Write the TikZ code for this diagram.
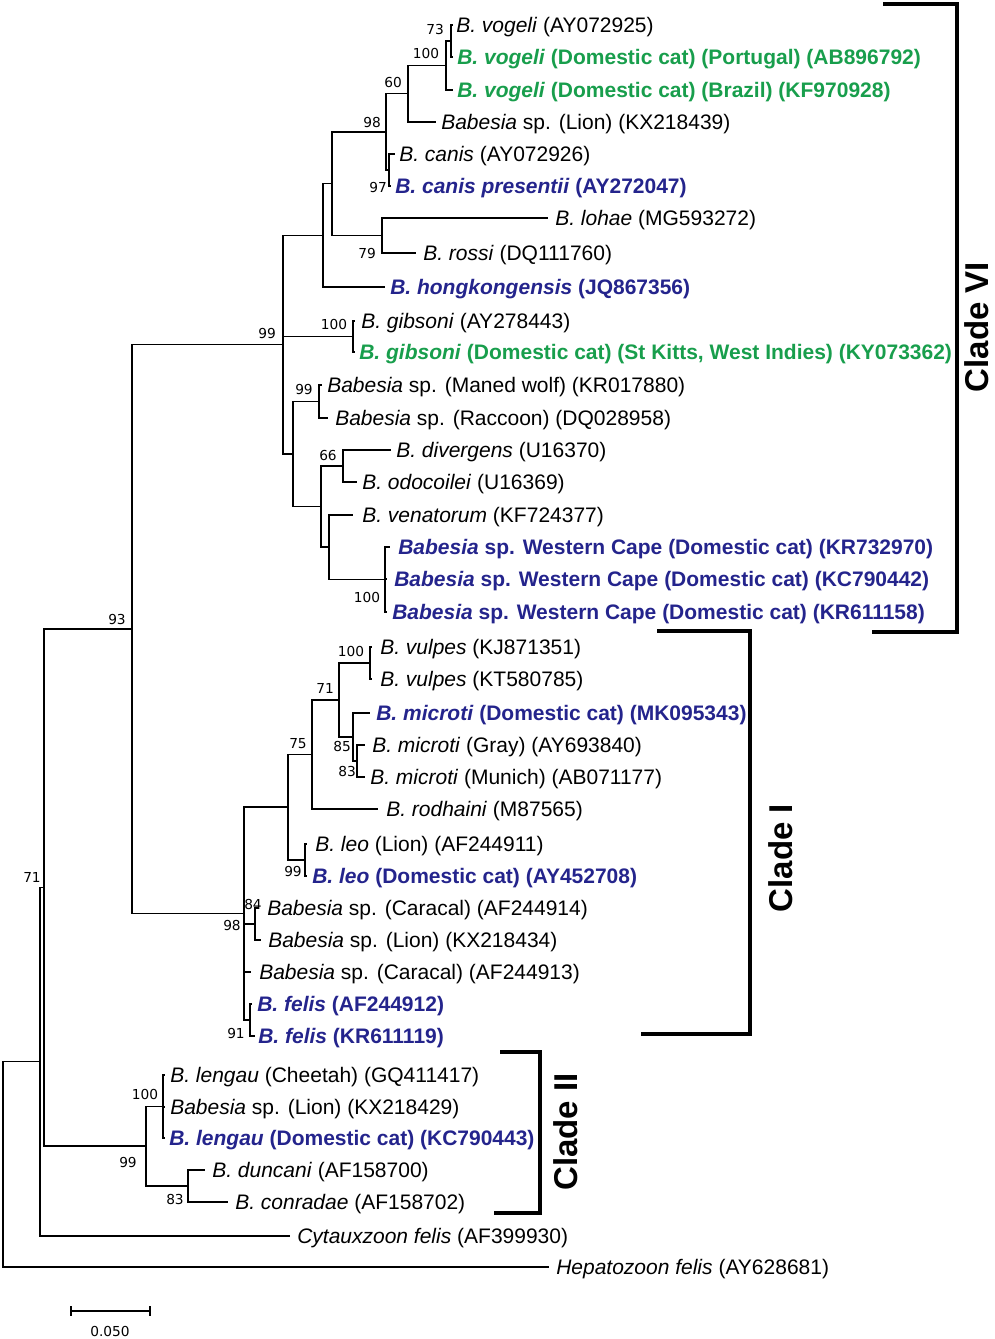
\documentclass[tikz,border=0pt]{standalone}
\usepackage{fontspec}
\setmainfont{Liberation Sans}
\newfontfamily\bsfont{DejaVu Sans}
\definecolor{cgreen}{RGB}{24,158,76}
\definecolor{cblue}{RGB}{36,36,140}
\begin{document}
\begin{tikzpicture}[x=0.75pt,y=-0.75pt,
  br/.style={line width=0.85pt},
  bracket/.style={line width=2.6pt},
  tip/.style={anchor=west,inner sep=0pt,yshift=-1.5pt,font=\fontsize{15.75}{18}\selectfont},
  grn/.style={tip,text=cgreen,font=\fontsize{15.75}{18}\selectfont\bfseries},
  blu/.style={tip,text=cblue,font=\fontsize{15.75}{18}\selectfont\bfseries},
  bs/.style={inner sep=0pt,font=\bsfont\fontsize{10.3}{12}\selectfont},
  clade/.style={inner sep=0pt,rotate=90,font=\fontsize{24.75}{28}\selectfont\bfseries}]
\useasboundingbox (0,0) rectangle (995,1339);
% ---------- tip labels ----------
\node[tip] (t1) at (456,25) {\textit{B. vogeli} (AY072925)};
\node[grn] (t2) at (457,57) {\textit{B. vogeli} (Domestic cat) (Portugal) (AB896792)};
\node[grn] (t3) at (457,90) {\textit{B. vogeli} (Domestic cat) (Brazil) (KF970928)};
\node[tip] (t4) at (441,122) {\textit{Babesia} sp. (Lion) (KX218439)};
\node[tip] (t5) at (399,154) {\textit{B. canis} (AY072926)};
\node[blu] (t6) at (395,186) {\textit{B. canis presentii} (AY272047)};
\node[tip] (t7) at (555,218) {\textit{B. lohae} (MG593272)};
\node[tip] (t8) at (423,253) {\textit{B. rossi} (DQ111760)};
\node[blu] (t9) at (390,287) {\textit{B. hongkongensis} (JQ867356)};
\node[tip] (t10) at (361,321) {\textit{B. gibsoni} (AY278443)};
\node[grn] (t11) at (359,352) {\textit{B. gibsoni} (Domestic cat) (St Kitts, West Indies) (KY073362)};
\node[tip] (t12) at (327,385) {\textit{Babesia} sp. (Maned wolf) (KR017880)};
\node[tip] (t13) at (335,418) {\textit{Babesia} sp. (Raccoon) (DQ028958)};
\node[tip] (t14) at (396,450) {\textit{B. divergens} (U16370)};
\node[tip] (t15) at (362,482) {\textit{B. odocoilei} (U16369)};
\node[tip] (t16) at (362,515) {\textit{B. venatorum} (KF724377)};
\node[blu] (t17) at (398,547) {\textit{Babesia} sp. Western Cape (Domestic cat) (KR732970)};
\node[blu] (t18) at (394,579) {\textit{Babesia} sp. Western Cape (Domestic cat) (KC790442)};
\node[blu] (t19) at (392,612) {\textit{Babesia} sp. Western Cape (Domestic cat) (KR611158)};
\node[tip] (t20) at (380,647) {\textit{B. vulpes} (KJ871351)};
\node[tip] (t21) at (380,679) {\textit{B. vulpes} (KT580785)};
\node[blu] (t22) at (376,713) {\textit{B. microti} (Domestic cat) (MK095343)};
\node[tip] (t23) at (372,745) {\textit{B. microti} (Gray) (AY693840)};
\node[tip] (t24) at (370,777) {\textit{B. microti} (Munich) (AB071177)};
\node[tip] (t25) at (386,809) {\textit{B. rodhaini} (M87565)};
\node[tip] (t26) at (315,844) {\textit{B. leo} (Lion) (AF244911)};
\node[blu] (t27) at (312,876) {\textit{B. leo} (Domestic cat) (AY452708)};
\node[tip] (t28) at (267,908) {\textit{Babesia} sp. (Caracal) (AF244914)};
\node[tip] (t29) at (268,940) {\textit{Babesia} sp. (Lion) (KX218434)};
\node[tip] (t30) at (259,972) {\textit{Babesia} sp. (Caracal) (AF244913)};
\node[blu] (t31) at (257,1004) {\textit{B. felis} (AF244912)};
\node[blu] (t32) at (258,1036) {\textit{B. felis} (KR611119)};
\node[tip] (t33) at (170,1075) {\textit{B. lengau} (Cheetah) (GQ411417)};
\node[tip] (t34) at (170,1107) {\textit{Babesia} sp. (Lion) (KX218429)};
\node[blu] (t35) at (169,1138) {\textit{B. lengau} (Domestic cat) (KC790443)};
\node[tip] (t36) at (212,1170) {\textit{B. duncani} (AF158700)};
\node[tip] (t37) at (235,1202) {\textit{B. conradae} (AF158702)};
\node[tip] (t38) at (297,1236) {\textit{Cytauxzoon felis} (AF399930)};
\node[tip] (t39) at (556,1267) {\textit{Hepatozoon felis} (AY628681)};
% ---------- tip ends ----------
\coordinate (e1) at (453,25);  \coordinate (e2) at (453,57);
\coordinate (e3) at (453,90);  \coordinate (e4) at (436,122);
\coordinate (e5) at (395,154); \coordinate (e6) at (391,186);
\coordinate (e7) at (548,218); \coordinate (e8) at (416,253);
\coordinate (e9) at (385,287); \coordinate (e10) at (355,321);
\coordinate (e11) at (355,352); \coordinate (e12) at (322,385);
\coordinate (e13) at (328,418); \coordinate (e14) at (391,450);
\coordinate (e15) at (357,482); \coordinate (e16) at (353,515);
\coordinate (e17) at (390,547); \coordinate (e18) at (387,579);
\coordinate (e19) at (387,612); \coordinate (e20) at (372,647);
\coordinate (e21) at (372,679); \coordinate (e22) at (370,713);
\coordinate (e23) at (365,745); \coordinate (e24) at (365,777);
\coordinate (e25) at (378,809); \coordinate (e26) at (307,844);
\coordinate (e27) at (307,876); \coordinate (e28) at (259,908);
\coordinate (e29) at (261,940); \coordinate (e30) at (251,972);
\coordinate (e31) at (252,1004); \coordinate (e32) at (255,1036);
\coordinate (e33) at (165,1075); \coordinate (e34) at (165,1107);
\coordinate (e35) at (165,1138); \coordinate (e36) at (205,1170);
\coordinate (e37) at (228,1202); \coordinate (e38) at (290,1236);
\coordinate (e39) at (549,1267);
% ---------- internal nodes ----------
\coordinate (n73) at (451,41);
\coordinate (n100a) at (446,65.5);
\coordinate (n60) at (408,93.75);
\coordinate (n97) at (389,170);
\coordinate (n98) at (386,132);
\coordinate (n79) at (382,235.5);
\coordinate (nA) at (332,183.75);
\coordinate (nB) at (323,235.4);
\coordinate (n100g) at (353,336.5);
\coordinate (n99b) at (319,401.5);
\coordinate (n66) at (343,466);
\coordinate (n100wc) at (385,579.5);
\coordinate (nF) at (329,547);
\coordinate (nD) at (321,506.5);
\coordinate (nC) at (293,454);
\coordinate (n99) at (283,344.7);
\coordinate (n100v) at (370,663);
\coordinate (n83) at (357,761);
\coordinate (n85) at (353,737);
\coordinate (n71b) at (339,700);
\coordinate (n75) at (312,754.5);
\coordinate (n99leo) at (305,860);
\coordinate (nE) at (288,807);
\coordinate (n84) at (255,924);
\coordinate (n91) at (250,1020);
\coordinate (n98b) at (244,913.5);
\coordinate (n93) at (132,629);
\coordinate (n100II) at (163,1106.5);
\coordinate (n83II) at (188,1186);
\coordinate (n99II) at (146,1146);
\coordinate (n71) at (44,887.5);
\coordinate (nR2) at (40,1061.75);
\coordinate (root) at (3,1164);
% ---------- branches ----------
\draw[br] (n73) |- (e1); \draw[br] (n73) |- (e2);
\draw[br] (n100a) |- (n73); \draw[br] (n100a) |- (e3);
\draw[br] (n60) |- (n100a); \draw[br] (n60) |- (e4);
\draw[br] (n97) |- (e5); \draw[br] (n97) |- (e6);
\draw[br] (n98) |- (n60); \draw[br] (n98) |- (n97);
\draw[br] (n79) |- (e7); \draw[br] (n79) |- (e8);
\draw[br] (nA) |- (n98); \draw[br] (nA) |- (n79);
\draw[br] (nB) |- (nA); \draw[br] (nB) |- (e9);
\draw[br] (n100g) |- (e10); \draw[br] (n100g) |- (e11);
\draw[br] (n99b) |- (e12); \draw[br] (n99b) |- (e13);
\draw[br] (n66) |- (e14); \draw[br] (n66) |- (e15);
\draw[br] (n100wc) |- (e17); \draw[br] (n100wc) |- (e18); \draw[br] (n100wc) |- (e19);
\draw[br] (nF) |- (e16); \draw[br] (nF) |- (n100wc);
\draw[br] (nD) |- (n66); \draw[br] (nD) |- (nF);
\draw[br] (nC) |- (n99b); \draw[br] (nC) |- (nD);
\draw[br] (n99) |- (nB); \draw[br] (n99) |- (n100g); \draw[br] (n99) |- (nC);
\draw[br] (n100v) |- (e20); \draw[br] (n100v) |- (e21);
\draw[br] (n83) |- (e23); \draw[br] (n83) |- (e24);
\draw[br] (n85) |- (e22); \draw[br] (n85) |- (n83);
\draw[br] (n71b) |- (n100v); \draw[br] (n71b) |- (n85);
\draw[br] (n75) |- (n71b); \draw[br] (n75) |- (e25);
\draw[br] (n99leo) |- (e26); \draw[br] (n99leo) |- (e27);
\draw[br] (nE) |- (n75); \draw[br] (nE) |- (n99leo);
\draw[br] (n84) |- (e28); \draw[br] (n84) |- (e29);
\draw[br] (n91) |- (e31); \draw[br] (n91) |- (e32);
\draw[br] (n98b) |- (nE); \draw[br] (n98b) |- (n84); \draw[br] (n98b) |- (e30); \draw[br] (n98b) |- (n91);
\draw[br] (n93) |- (n99); \draw[br] (n93) |- (n98b);
\draw[br] (n100II) |- (e33); \draw[br] (n100II) |- (e34); \draw[br] (n100II) |- (e35);
\draw[br] (n83II) |- (e36); \draw[br] (n83II) |- (e37);
\draw[br] (n99II) |- (n100II); \draw[br] (n99II) |- (n83II);
\draw[br] (n71) |- (n93); \draw[br] (n71) |- (n99II);
\draw[br] (nR2) |- (n71); \draw[br] (nR2) |- (e38);
\draw[br] (root) |- (nR2); \draw[br] (root) |- (e39);
% ---------- bootstrap values ----------
\node[bs] (b73) at (435,29) {73};
\node[bs] (b100a) at (426,53) {100};
\node[bs] (b60) at (393,82) {60};
\node[bs] (b98) at (372,122) {98};
\node[bs] (b97) at (378,187) {97};
\node[bs] (b79) at (367,253) {79};
\node[bs] (b99) at (267,333) {99};
\node[bs] (b100g) at (334,324) {100};
\node[bs] (b99b) at (304,389) {99};
\node[bs] (b66) at (328,455) {66};
\node[bs] (b100wc) at (367,597) {100};
\node[bs] (b93) at (117,619) {93};
\node[bs] (b100v) at (351,651) {100};
\node[bs] (b71b) at (325,688) {71};
\node[bs] (b75) at (298,744) {75};
\node[bs] (b85) at (342,746) {85};
\node[bs] (b83) at (347,771) {83};
\node[bs] (b99leo) at (293,871) {99};
\node[bs] (b84) at (253,904) {84};
\node[bs] (b98b) at (232,925) {98};
\node[bs] (b91) at (236,1033) {91};
\node[bs] (b71) at (32,877) {71};
\node[bs] (b100II) at (145,1094) {100};
\node[bs] (b99II) at (128,1162) {99};
\node[bs] (b83II) at (175,1199) {83};
% ---------- clade brackets ----------
\coordinate (c6a) at (883,4); \coordinate (c6b) at (957,4);
\coordinate (c6c) at (957,632); \coordinate (c6d) at (872,632);
\draw[bracket] (c6a) -- (c6b) -- (c6c) -- (c6d);
\node[clade] (L6) at (977,327) {Clade VI};
\coordinate (c1a) at (657,631); \coordinate (c1b) at (750,631);
\coordinate (c1c) at (750,1034); \coordinate (c1d) at (641,1034);
\draw[bracket] (c1a) -- (c1b) -- (c1c) -- (c1d);
\node[clade] (L1) at (781,858) {Clade I};
\coordinate (c2a) at (500,1052); \coordinate (c2b) at (540,1052);
\coordinate (c2c) at (540,1213); \coordinate (c2d) at (494,1213);
\draw[bracket] (c2a) -- (c2b) -- (c2c) -- (c2d);
\node[clade] (L2) at (566,1132) {Clade II};
% ---------- scale bar ----------
\coordinate (s1) at (71,1311); \coordinate (s2) at (150,1311);
\draw[br] (s1) -- (s2);
\draw[br] ([yshift=-3.5pt]s1) -- ([yshift=3.5pt]s1);
\draw[br] ([yshift=-3.5pt]s2) -- ([yshift=3.5pt]s2);
\node[bs] (sl) at (110,1331) {0.050};
\end{tikzpicture}
\end{document}
